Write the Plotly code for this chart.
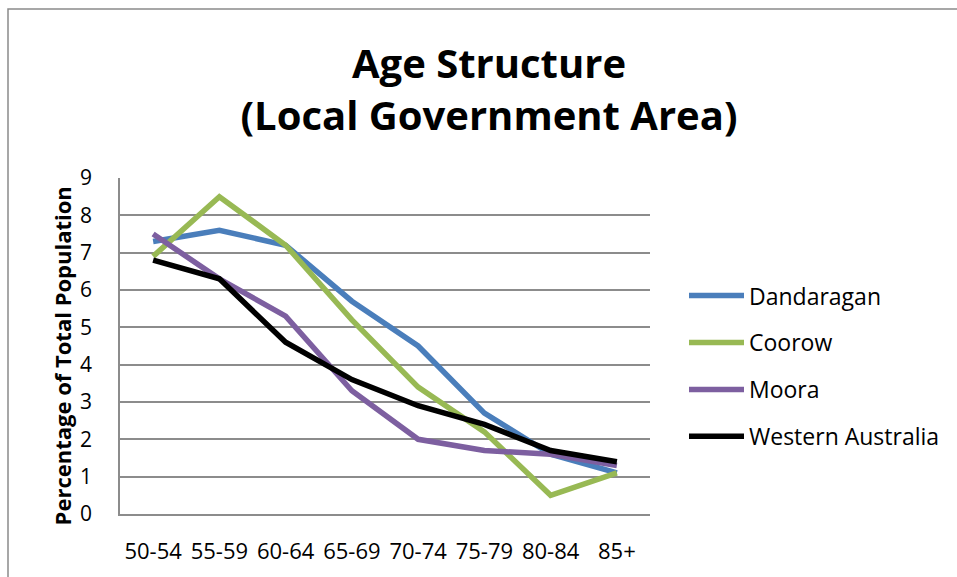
import plotly.graph_objects as go

# Age groups and share of total population (%) per area
age_groups = ["50-54", "55-59", "60-64", "65-69", "70-74", "75-79", "80-84", "85+"]
dandaragan = [7.3, 7.6, 7.2, 5.7, 4.5, 2.7, 1.6, 1.1]
coorow = [6.9, 8.5, 7.2, 5.2, 3.4, 2.2, 0.5, 1.1]
moora = [7.5, 6.3, 5.3, 3.3, 2.0, 1.7, 1.6, 1.3]
western_australia = [6.8, 6.3, 4.6, 3.6, 2.9, 2.4, 1.7, 1.4]

series_names = ["Dandaragan", "Coorow", "Moora", "Western Australia"]
series_values = [dandaragan, coorow, moora, western_australia]
series_colors = ["#4A7EBB", "#98B954", "#7D5FA0", "#000000"]

W, H = 957, 577
ML, MR, MT, MB = 120, 307, 178, 60
PW, PH = W - ML - MR, H - MT - MB
GRID = "#8C8C8C"
FONT = "Open Sans"


def px_x(x):
    return (x - ML) / PW


def px_y(y):
    return (H - MB - y) / PH


fig = go.Figure()
for i, (name, vals, col) in enumerate(zip(series_names, series_values, series_colors)):
    fig.add_trace(go.Scatter(
        x=age_groups, y=vals, name=name, mode="lines",
        line=dict(color=col, width=5.5), legendgroup=f"g{i}",
    ))

fig.update_layout(
    width=W, height=H,
    margin=dict(l=ML, r=MR, t=MT, b=MB),
    paper_bgcolor="white", plot_bgcolor="white",
    font=dict(family=FONT, color="black"),
    title=dict(
        text="Age Structure<br>(Local Government Area)",
        font=dict(size=40, family=FONT, weight="bold", color="black"),
        xref="container", x=489 / W, xanchor="center",
        yref="container", y=1 - 78 / H, yanchor="middle",
    ),
    xaxis=dict(
        type="category", range=[-0.5, len(age_groups) - 0.5],
        showgrid=False, showline=True, linecolor=GRID, linewidth=1.5,
        ticks="", tickfont=dict(size=22, family=FONT), ticklabelstandoff=17,
        zeroline=False, fixedrange=True,
    ),
    yaxis=dict(
        range=[0, 9], dtick=1, showgrid=True, gridcolor=GRID, gridwidth=1.5,
        showline=True, linecolor=GRID, linewidth=1.5, zeroline=False,
        ticks="", tickfont=dict(size=21, family=FONT), ticklabelstandoff=22,
        fixedrange=True,
    ),
    legend=dict(
        x=px_x(684), xanchor="left", y=px_y(275), yanchor="top",
        font=dict(size=23, family=FONT), tracegroupgap=14,
        itemwidth=55, bgcolor="rgba(0,0,0,0)",
    ),
    showlegend=True,
)

# y-axis title
fig.add_annotation(
    text="Percentage of Total Population", textangle=-90,
    xref="paper", yref="paper", x=px_x(62), y=px_y(358),
    xanchor="center", yanchor="middle", showarrow=False,
    font=dict(size=22, family=FONT, weight="bold", color="black"),
)

# outer chart-area border
fig.add_shape(
    type="rect", xref="paper", yref="paper",
    x0=px_x(8), x1=px_x(990), y0=px_y(600), y1=px_y(7.5),
    line=dict(color="#8A8A8A", width=1.5), layer="below",
)

fig.write_html("out.html")
